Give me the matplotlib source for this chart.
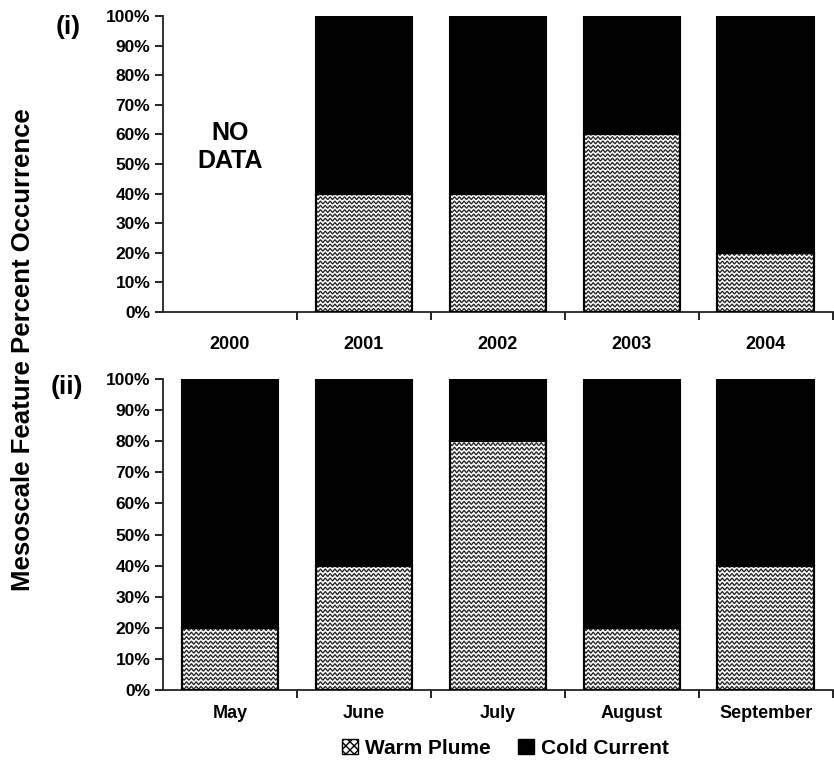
import numpy as np
import matplotlib.pyplot as plt
from matplotlib.patches import Patch

plt.rcParams['font.family'] = ['Liberation Sans', 'DejaVu Sans']
plt.rcParams['font.weight'] = 'bold'

# 年度与月度的暖羽/冷流占比（%）
years = ['2000', '2001', '2002', '2003', '2004']
warm_year = [np.nan, 40, 40, 60, 20]
months = ['May', 'June', 'July', 'August', 'September']
warm_month = [20, 40, 80, 20, 40]

BAR_W = 0.72


def zigzag_fill(ax, x0, height, period=0.036, amp=0.5, step=1.45):
    """在柱子内画锯齿纹理"""
    rect = plt.Rectangle((x0 - BAR_W / 2, 0), BAR_W, height, transform=ax.transData)
    xs = np.arange(x0 - BAR_W / 2 - period, x0 + BAR_W / 2 + period, period / 2)
    sign = np.where(np.arange(len(xs)) % 2 == 0, 1, -1)
    for y in np.arange(step / 2, height + step, step):
        line, = ax.plot(xs, y + amp * sign, color='#222222', lw=0.95, solid_joinstyle='miter')
        line.set_clip_path(rect)


def draw_panel(ax, labels, warm, pad):
    x = np.arange(len(labels))
    for i, w in enumerate(warm):
        if np.isnan(w):
            continue
        ax.bar(i, w, BAR_W, color='white', edgecolor='black', lw=1.5, zorder=1)
        zigzag_fill(ax, i, w)
        ax.bar(i, 100 - w, BAR_W, bottom=w, color='black', edgecolor='black', lw=1.5, zorder=3)
        ax.bar(i, w, BAR_W, color='none', edgecolor='black', lw=1.5, zorder=4)
    ax.set_xlim(-0.5, 4.5)
    ax.set_ylim(0, 100)
    ax.set_yticks(np.arange(0, 101, 10))
    ax.set_yticklabels([f'{v}%' for v in range(0, 101, 10)], fontsize=12.5)
    ax.set_xticks(x)
    ax.set_xticklabels(labels, fontsize=13)
    ax.set_xticks(np.arange(0.5, 4.6, 1), minor=True)
    ax.tick_params(axis='x', which='major', length=0, pad=pad)
    ax.tick_params(axis='x', which='minor', length=6, width=1.2, direction='out')
    ax.tick_params(axis='y', length=6, width=1.2, pad=3)
    for s in ['top', 'right']:
        ax.spines[s].set_visible(False)
    for s in ['left', 'bottom']:
        ax.spines[s].set_linewidth(1.3)
        ax.spines[s].set_color('#222222')


fig = plt.figure(figsize=(8.34, 7.62), dpi=100)
ax1 = fig.add_axes([0.1954, 0.5906, 0.803, 0.3885])
ax2 = fig.add_axes([0.1954, 0.0945, 0.803, 0.4081])

draw_panel(ax1, years, warm_year, pad=17)
draw_panel(ax2, months, warm_month, pad=11)

ax1.text(0, 55.6, 'NO\nDATA', ha='center', va='center', fontsize=18,
         fontweight='bold', linespacing=1.2)

fig.text(0.0815, 0.965, '(i)', fontsize=19, fontweight='bold', ha='center', va='center')
fig.text(0.080, 0.492, '(ii)', fontsize=19, fontweight='bold', ha='center', va='center')
fig.text(0.027, 0.541, 'Mesoscale Feature Percent Occurrence', rotation=90,
         fontsize=18.5, fontweight='bold', ha='center', va='center')

handles = [Patch(facecolor='white', edgecolor='black', hatch='xxxx', label='Warm Plume'),
           Patch(facecolor='black', edgecolor='black', label='Cold Current')]
fig.legend(handles=handles, loc='center', bbox_to_anchor=(0.606, 0.018), ncol=2,
           frameon=False, fontsize=15, handlelength=0.75, handleheight=0.75,
           handletextpad=0.35, columnspacing=1.3)

fig.savefig('out.png', dpi=100)
